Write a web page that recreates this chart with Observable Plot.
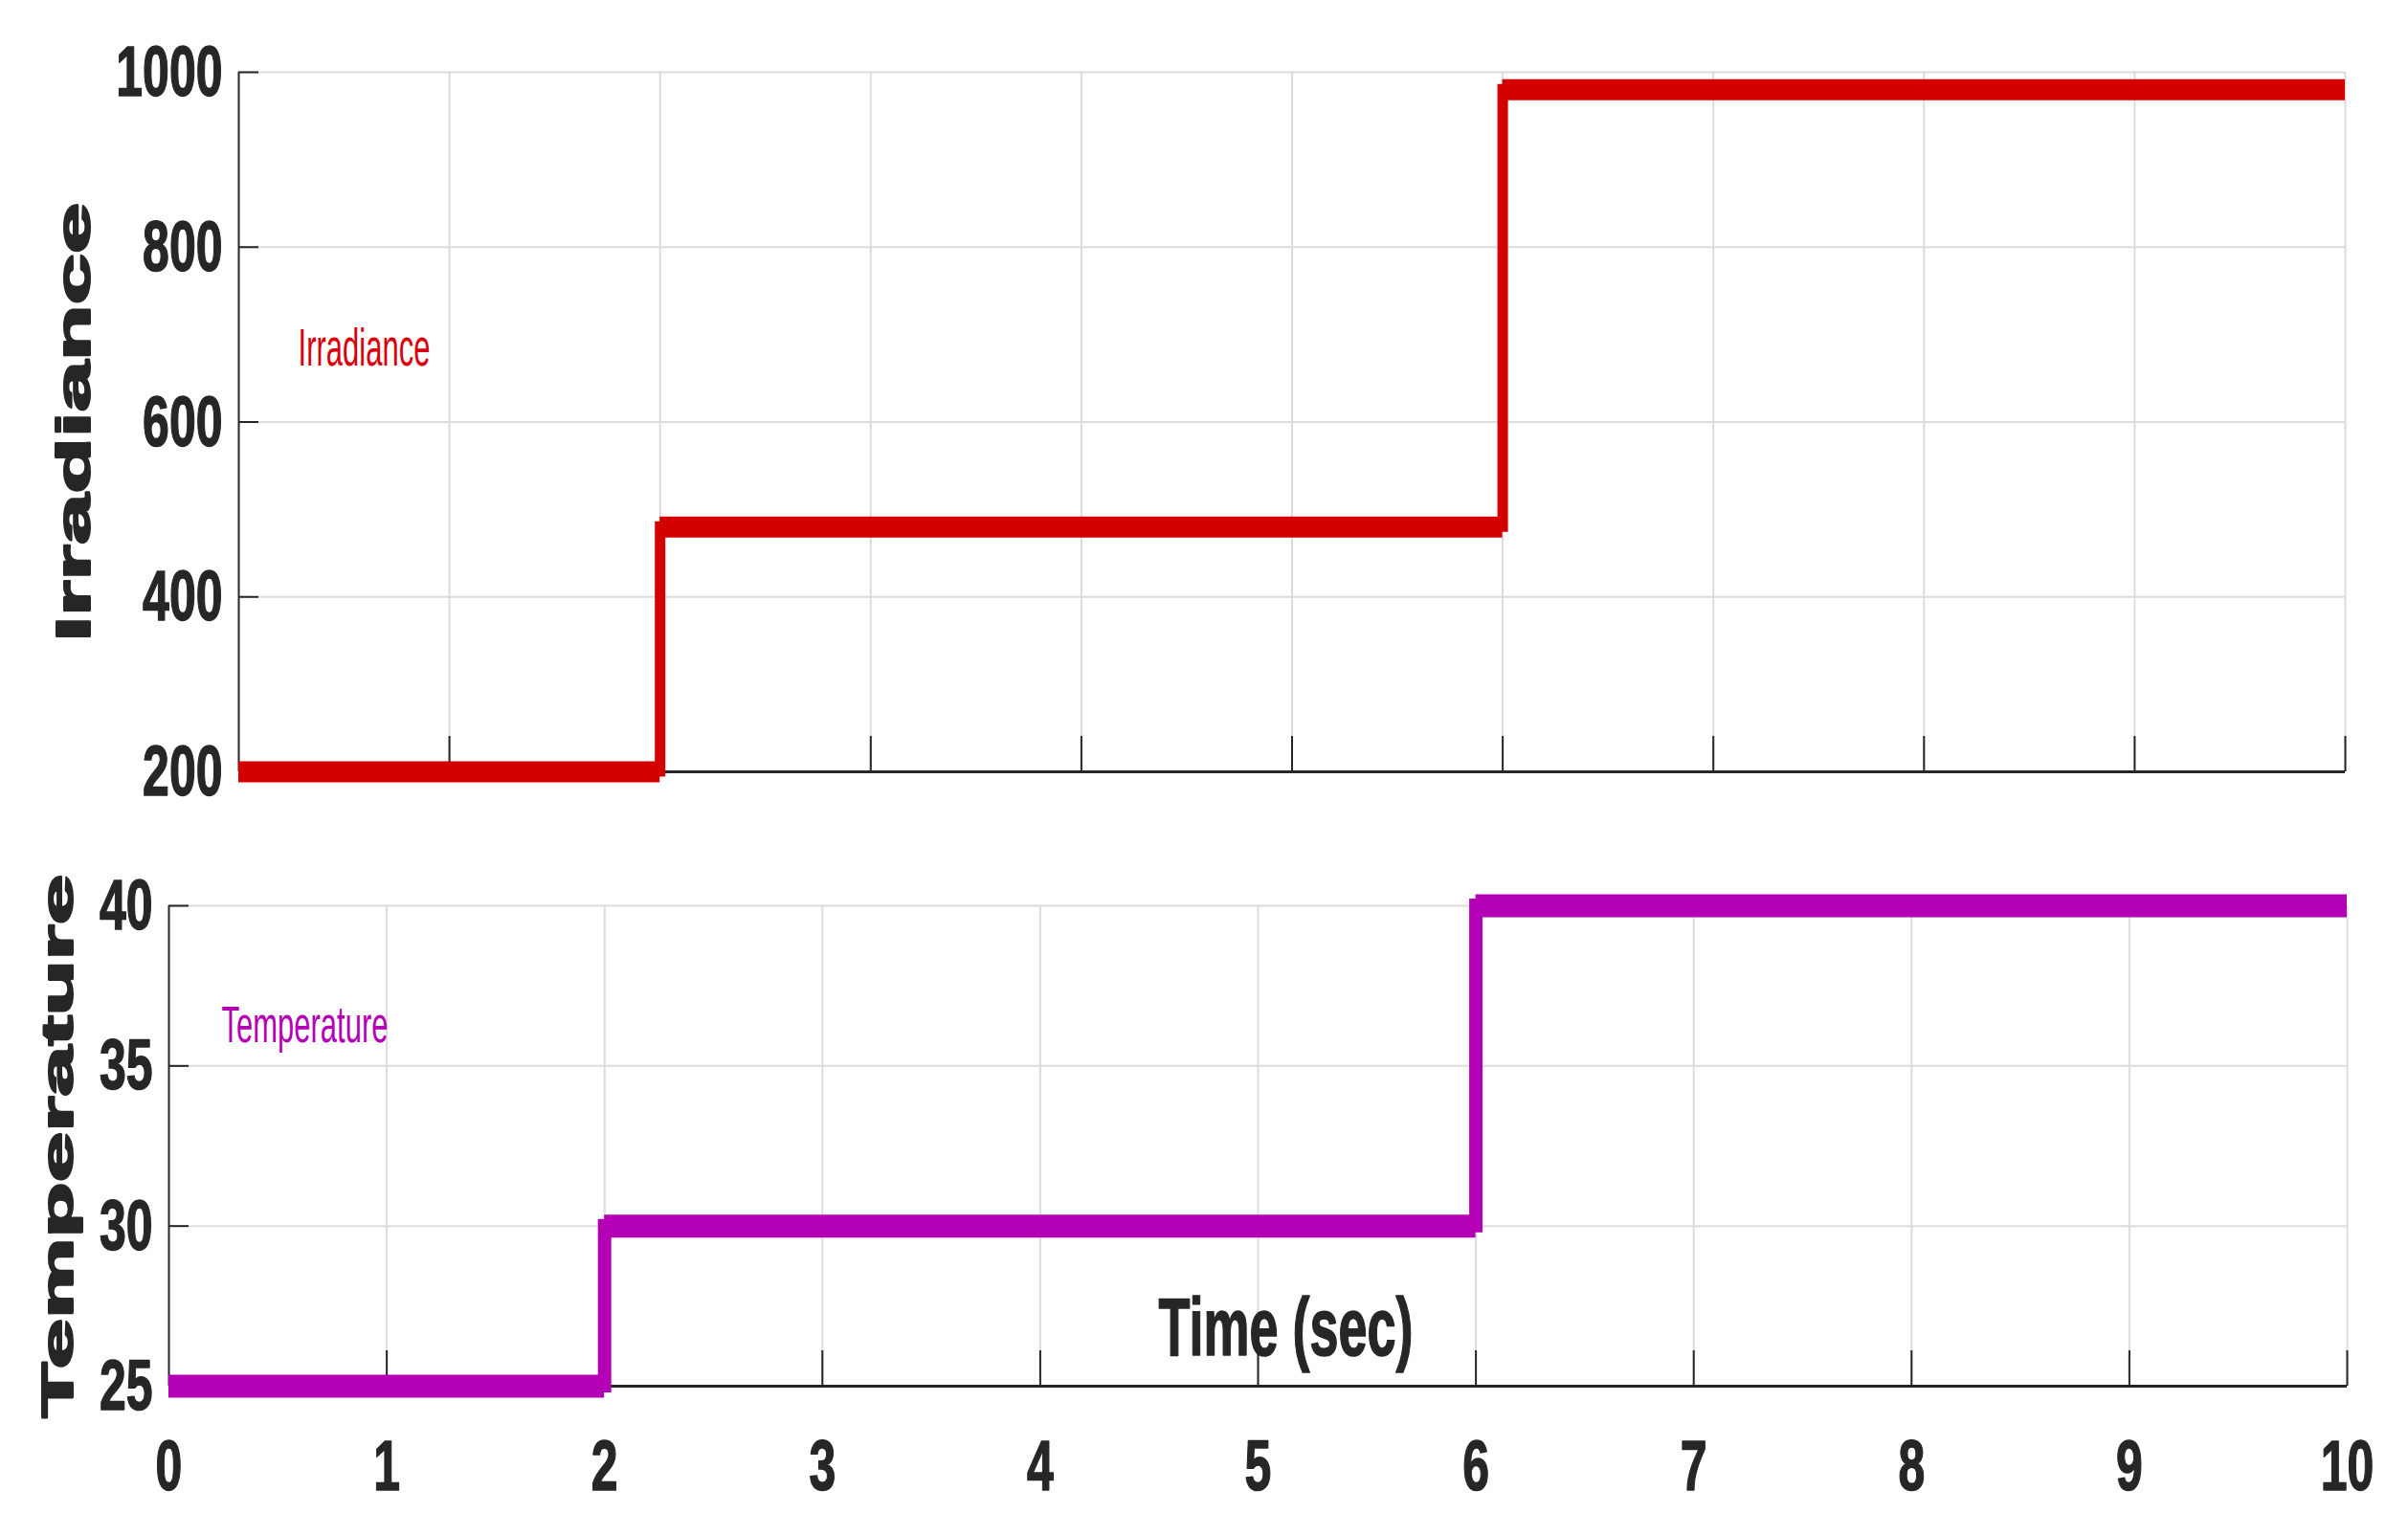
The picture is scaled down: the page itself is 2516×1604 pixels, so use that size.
<!DOCTYPE html>
<html><head><meta charset="utf-8">
<script src="https://cdn.jsdelivr.net/npm/d3@7"></script>
<script src="https://cdn.jsdelivr.net/npm/@observablehq/plot@0.6"></script>
<style>
html,body{margin:0;padding:0;background:#fff;}
#wrap{position:relative;width:2516px;height:1604px;overflow:hidden;background:#fff;}
#wrap svg{position:absolute;left:0;max-width:none;}
</style></head><body><div id="wrap"></div>
<script>
// ---- data ----
const timeTicks = [0,1,2,3,4,5,6,7,8,9,10];
const irrTicks = [200,400,600,800,1000];
const tempTicks = [25,30,35,40];
const irrStart = [0,2,6];
const irrEnd = [2,6,10];
const irrValue = [200,480,980];
const tempStart = [0,2,6];
const tempEnd = [2,6,10];
const tempValue = [25,30,40];
const irrTitle = "Irradiance";
const tempTitle = "Temperature";
const timeTitle = "Time (sec)";
const irrNote = "Irradiance";
const tempNote = "Temperature";

// ---- helpers ----
const FONT = "'Liberation Sans', Arial, Helvetica, sans-serif";
const AX = "#262626";
const GRID = "#dcdcdc";
const levels = (s, e, v) => s.map((d, i) => ({x1: d, x2: e[i], y: v[i]}));
const jumps = (s, v) => s.slice(1).map((d, i) => ({x: d, y1: v[i], y2: v[i + 1]}));

function stretchText(t, k) {
  const g = document.createElementNS("http://www.w3.org/2000/svg", "g");
  t.parentNode.insertBefore(g, t);
  g.appendChild(t);
  const b = g.getBBox();
  const cx = b.x + b.width / 2, cy = b.y + b.height / 2;
  g.setAttribute("transform", `translate(${cx},${cy}) scale(1,${k}) translate(${-cx},${-cy})`);
}
function stretchAll(svg, titleK, noteK) {
  Array.from(svg.querySelectorAll("text")).forEach(t => {
    const tr = t.getAttribute("transform") || "";
    const s = t.textContent.trim();
    let k;
    if (tr.includes("rotate")) k = titleK;
    else if (s === timeTitle) k = 1.58;
    else if (/^\d+$/.test(s)) k = 1.5;
    else k = noteK;
    stretchText(t, k);
  });
}

function panel({width, height, ml, mr, mt, mb, yDomain, yTicks, start, end, value, color, hw, vw,
                title, titleDx, titleSize, note, noteDx, noteDy, noteSize, showX}) {
  const iw = width - ml - mr, ih = height - mt - mb;
  const marks = [
    Plot.ruleX(timeTicks.slice(1), {stroke: GRID, strokeWidth: 2}),
    Plot.ruleY(yTicks.slice(1), {stroke: GRID, strokeWidth: 2}),
    Plot.ruleX([0], {stroke: AX, strokeWidth: 2}),
    Plot.ruleY([yDomain[0]], {stroke: AX, strokeWidth: 3}),
    Plot.ruleY(yTicks, {stroke: AX, strokeWidth: 2, insetRight: iw - 21}),
    Plot.ruleX(timeTicks.slice(1), {stroke: AX, strokeWidth: 2, insetTop: ih - 37}),
    Plot.ruleX(jumps(start, value), {x: "x", y1: "y1", y2: "y2", stroke: color, strokeWidth: vw, strokeLinecap: "square"}),
    Plot.ruleY(levels(start, end, value), {x1: "x1", x2: "x2", y: "y", stroke: color, strokeWidth: hw}),
    Plot.text(yTicks, {y: d => d, text: d => String(d), frameAnchor: "left", textAnchor: "end", lineAnchor: "middle",
      dx: -17, fontSize: 50, fontWeight: "bold", fontFamily: FONT, fill: AX, stroke: AX, strokeWidth: 1}),
    Plot.text([title], {text: d => d, frameAnchor: "left", rotate: -90, textAnchor: "middle", lineAnchor: "middle",
      dx: titleDx, fontSize: titleSize, fontWeight: "bold", fontFamily: FONT, fill: AX, stroke: AX, strokeWidth: 2}),
    Plot.text([note.text], {text: d => d, frameAnchor: "top-left", textAnchor: "middle", lineAnchor: "middle",
      dx: noteDx, dy: noteDy, fontSize: noteSize, fontFamily: FONT, fill: note.color})
  ];
  if (showX) {
    marks.push(Plot.text(timeTicks, {x: d => d, text: d => String(d), frameAnchor: "bottom", lineAnchor: "middle",
      dy: 84, fontSize: 50, fontWeight: "bold", fontFamily: FONT, fill: AX, stroke: AX, strokeWidth: 1}));
    marks.push(Plot.text([timeTitle], {text: d => d, frameAnchor: "bottom", textAnchor: "middle", lineAnchor: "middle",
      dx: 29, dy: -61, fontSize: 54, fontWeight: "bold", fontFamily: FONT, fill: AX, stroke: AX, strokeWidth: 1}));
  }
  return Plot.plot({
    width, height, marginLeft: ml, marginRight: mr, marginTop: mt, marginBottom: mb,
    x: {domain: [0, 10], axis: null},
    y: {domain: yDomain, axis: null},
    style: {background: "transparent", fontFamily: FONT},
    marks
  });
}

const wrap = document.getElementById("wrap");

const topPanel = panel({width: 2516, height: 850, ml: 249, mr: 66, mt: 75, mb: 44,
  yDomain: [200, 1000], yTicks: irrTicks, start: irrStart, end: irrEnd, value: irrValue,
  color: "#d40000", hw: 22, vw: 11, title: irrTitle, titleDx: -172, titleSize: 50,
  note: {text: irrNote, color: "#d8000c"}, noteDx: 131, noteDy: 288, noteSize: 31, showX: false});
topPanel.style.top = "0px";
wrap.appendChild(topPanel);

const botPanel = panel({width: 2516, height: 754, ml: 176, mr: 64, mt: 96, mb: 156,
  yDomain: [25, 40], yTicks: tempTicks, start: tempStart, end: tempEnd, value: tempValue,
  color: "#b400b4", hw: 24, vw: 14, title: tempTitle, titleDx: -116, titleSize: 47,
  note: {text: tempNote, color: "#b400b4"}, noteDx: 142, noteDy: 125, noteSize: 31, showX: true});
botPanel.style.top = "850px";
wrap.appendChild(botPanel);

stretchAll(topPanel, 1.92, 1.8);
stretchAll(botPanel, 2.02, 1.75);
</script></body></html>
